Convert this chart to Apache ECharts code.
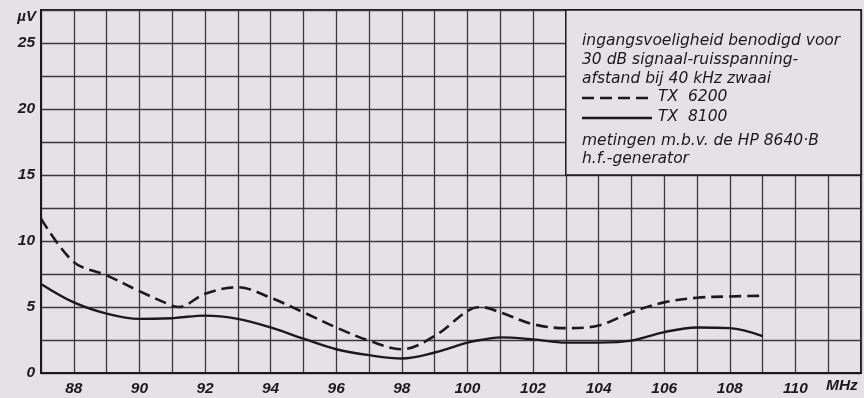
<!DOCTYPE html>
<html>
<head>
<meta charset="utf-8">
<script src="https://cdn.jsdelivr.net/npm/echarts@6/dist/echarts.min.js"></script>
<style>
  html, body { margin: 0; padding: 0; background: #e6e1e4; }
  #chart { width: 864px; height: 398px; }
</style>
</head>
<body>
<div id="chart"></div>
<script>
// frequency (MHz) where the curves were read
var freqs = [87, 88, 89, 90, 91, 91.2, 92, 93, 94, 95, 96, 97, 98, 99, 100, 100.4, 101, 102, 103, 104, 105, 106, 107, 108, 109];
// TX 6200 (dashed), µV
var tx6200 = [11.7, 8.4, 7.4, 6.2, 5.1, 5.0, 6.0, 6.5, 5.7, 4.6, 3.45, 2.45, 1.8, 2.8, 4.7, 5.0, 4.6, 3.7, 3.4, 3.6, 4.6, 5.35, 5.7, 5.8, 5.85];
// TX 8100 (solid), µV
var tx8100 = [6.75, 5.35, 4.5, 4.1, 4.15, 4.2, 4.35, 4.1, 3.45, 2.6, 1.8, 1.35, 1.1, 1.55, 2.3, 2.5, 2.7, 2.55, 2.3, 2.3, 2.45, 3.1, 3.45, 3.4, 2.8];
var yLabels = [0, 5, 10, 15, 20, 25];
var xLabels = [88, 90, 92, 94, 96, 98, 100, 102, 104, 106, 108, 110];

var notes = [
  'ingangsvoeligheid benodigd voor',
  '30 dB signaal-ruisspanning-',
  'afstand bij 40 kHz zwaai'
];
var notes2 = [
  'metingen m.b.v. de HP 8640·B',
  'h.f.-generator'
];

function pairs(xs, ys) {
  return xs.map(function (x, i) { return [x, ys[i]]; });
}

var ink = '#1a1a1a';
var paper = '#e6e1e4';
var labelFont = { color: ink, fontStyle: 'italic', fontWeight: 'bold', fontSize: 15.5, fontFamily: 'Liberation Sans' };
var noteFont = 'oblique 15.5px "DejaVu Sans"';

var myChart = echarts.init(document.getElementById('chart'));
myChart.setOption({
  backgroundColor: paper,
  animation: false,
  grid: { left: 41, top: 10, right: 0, bottom: 25, show: true, borderColor: ink, borderWidth: 2 },
  xAxis: {
    type: 'value',
    min: 87,
    max: 112,
    interval: 1,
    axisLine: { show: true, lineStyle: { color: ink, width: 2 } },
    axisTick: { show: false },
    splitLine: { show: true, lineStyle: { color: '#3a3a3a', width: 1.3 } },
    axisLabel: Object.assign({
      margin: 8,
      formatter: function (v) { return xLabels.indexOf(v) >= 0 ? String(v) : ''; }
    }, labelFont)
  },
  yAxis: {
    type: 'value',
    min: 0,
    max: 27.5,
    interval: 2.5,
    axisLine: { show: true, lineStyle: { color: ink, width: 2 } },
    axisTick: { show: false },
    splitLine: { show: true, lineStyle: { color: '#3a3a3a', width: 1.3 } },
    axisLabel: Object.assign({
      margin: 6,
      formatter: function (v) { return yLabels.indexOf(v) >= 0 ? String(v) : ''; }
    }, labelFont)
  },
  series: [
    {
      name: 'TX 6200',
      type: 'line',
      smooth: 0.35,
      symbol: 'none',
      lineStyle: { color: ink, width: 2.6, type: [12, 6] },
      data: pairs(freqs, tx6200),
      markArea: {
        silent: true,
        itemStyle: { color: paper, borderColor: ink, borderWidth: 1.5 },
        data: [[{ coord: [103, 15] }, { coord: [112, 27.5] }]]
      },
      z: 3
    },
    {
      name: 'TX 8100',
      type: 'line',
      smooth: 0.35,
      symbol: 'none',
      lineStyle: { color: ink, width: 2.4 },
      data: pairs(freqs, tx8100),
      z: 3
    }
  ],
  graphic: [
    {
      type: 'text', right: 828, top: 9,
      style: { text: 'µV', fill: ink, font: 'italic bold 15px "Liberation Sans"' }
    },
    {
      type: 'text', left: 826, top: 378,
      style: { text: 'MHz', fill: ink, font: 'italic bold 15.5px "Liberation Sans"' }
    },
    {
      type: 'text', left: 582, top: 31, z: 10,
      style: { text: notes.join('\n'), fill: ink, font: noteFont, lineHeight: 19 }
    },
    {
      type: 'line', z: 10,
      shape: { x1: 582, y1: 98, x2: 652, y2: 98 },
      style: { stroke: ink, lineWidth: 2.6, lineDash: [12, 6] }
    },
    {
      type: 'text', left: 658, top: 89, z: 10,
      style: { text: 'TX  6200', fill: ink, font: noteFont }
    },
    {
      type: 'line', z: 10,
      shape: { x1: 582, y1: 118, x2: 652, y2: 118 },
      style: { stroke: ink, lineWidth: 2.4 }
    },
    {
      type: 'text', left: 658, top: 109, z: 10,
      style: { text: 'TX  8100', fill: ink, font: noteFont }
    },
    {
      type: 'text', left: 582, top: 132, z: 10,
      style: { text: notes2.join('\n'), fill: ink, font: noteFont, lineHeight: 18 }
    }
  ]
});
</script>
</body>
</html>
